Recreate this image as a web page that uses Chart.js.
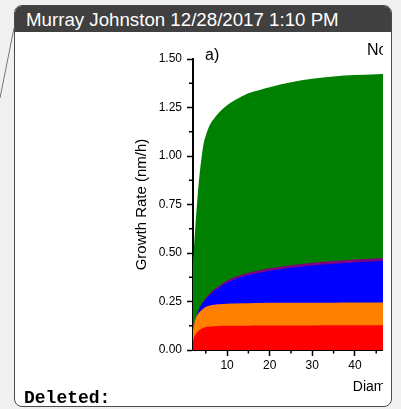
<!DOCTYPE html>
<html>
<head>
<meta charset="utf-8">
<script src="https://cdn.jsdelivr.net/npm/chart.js@4.4.1/dist/chart.umd.min.js"></script>
<style>
  html, body { margin:0; padding:0; }
  body { width:401px; height:409px; background:#f0f0f0; position:relative; overflow:hidden; font-family: Arial, "Liberation Sans", sans-serif; }
  #box { position:absolute; left:14px; top:5px; width:376px; height:400px; background:#fff; border:1px solid #4a4a4a; border-radius:8px; overflow:hidden; }
  #hdr { position:absolute; left:0; top:0; width:100%; height:26px; background:#404040; }
  #hdrtxt { position:absolute; left:11px; top:4.6px; font-size:18.7px; line-height:1; color:#fff; white-space:nowrap; }
  #chartwrap { position:absolute; left:100px; top:40px; width:283px; height:360px; overflow:hidden; }
  #chartwrap canvas { position:absolute; left:0; top:0; }
  .ann { position:absolute; font-size:16px; line-height:1; color:#000; white-space:nowrap; }
  #deleted { position:absolute; left:24px; top:389px; font-family:"Liberation Mono", "Courier New", monospace; font-weight:bold; font-size:18px; line-height:1; color:#000; }
  #leader { position:absolute; left:0; top:0; }
</style>
</head>
<body>
<div id="box">
  <div id="hdr"><span id="hdrtxt">Murray Johnston 12/28/2017 1:10 PM</span></div>
</div>
<svg id="leader" width="401" height="409"><line x1="14" y1="28" x2="0" y2="98" stroke="#777" stroke-width="1"/></svg>
<div id="chartwrap">
  <canvas id="c" width="520" height="360"></canvas>
  <div class="ann" style="left:105px; top:6.5px;">a)</div>
  <div class="ann" style="left:267px; top:1.5px;">No</div>
</div>
<div id="deleted">Deleted:</div>
<script>
// ---- data ----
const diameter = [2, 2.2, 2.5, 3, 3.5, 4, 4.5, 5, 6, 7, 8, 10, 12, 15, 18, 20, 25, 30, 35, 40, 45, 50];
const redTop    = [0.050, 0.062, 0.077, 0.092, 0.103, 0.110, 0.115, 0.118, 0.121, 0.123, 0.124, 0.125, 0.125, 0.125, 0.126, 0.126, 0.126, 0.126, 0.127, 0.127, 0.127, 0.127];
const orangeTop = [0.103, 0.125, 0.155, 0.180, 0.195, 0.205, 0.215, 0.222, 0.229, 0.233, 0.236, 0.239, 0.240, 0.241, 0.242, 0.243, 0.243, 0.244, 0.244, 0.245, 0.245, 0.245];
const blueTop   = [0.100, 0.120, 0.150, 0.185, 0.212, 0.233, 0.248, 0.262, 0.285, 0.305, 0.320, 0.348, 0.366, 0.386, 0.400, 0.408, 0.424, 0.436, 0.445, 0.452, 0.458, 0.462];
const purpleTop = [0.100, 0.121, 0.152, 0.188, 0.216, 0.238, 0.254, 0.268, 0.292, 0.313, 0.329, 0.358, 0.377, 0.398, 0.413, 0.421, 0.437, 0.450, 0.459, 0.466, 0.472, 0.476];
const greenTop  = [0.450, 0.520, 0.620, 0.770, 0.895, 0.990, 1.065, 1.105, 1.162, 1.195, 1.222, 1.262, 1.290, 1.323, 1.343, 1.355, 1.380, 1.398, 1.410, 1.417, 1.422, 1.426];
const yTicks = [0, 0.25, 0.5, 0.75, 1.0, 1.25, 1.5];
const yMinor = [0.125, 0.375, 0.625, 0.875, 1.125, 1.375];
const xTicks = [10, 20, 30, 40, 50, 60, 70, 80, 90];
const xMinor = [5, 15, 25, 35, 45, 55];

function pts(arr){ return diameter.map((d,i)=>({x:d, y:arr[i]})); }
function ds(arr, color){
  return { data: pts(arr), backgroundColor: color, borderColor: color, borderWidth: 0,
           pointRadius: 0, fill: 'origin', cubicInterpolationMode: 'monotone' };
}

const minorTicks = {
  id: 'minorTicks',
  afterDraw(chart){
    const {ctx, scales:{x, y}} = chart;
    ctx.save();
    ctx.strokeStyle = '#000';
    ctx.lineWidth = 1.5;
    yMinor.forEach(v => {
      const py = y.getPixelForValue(v);
      ctx.beginPath(); ctx.moveTo(y.right - 4, py); ctx.lineTo(y.right, py); ctx.stroke();
    });
    xMinor.forEach(v => {
      const px = x.getPixelForValue(v);
      ctx.beginPath(); ctx.moveTo(px, x.top); ctx.lineTo(px, x.top + 3.5); ctx.stroke();
    });
    ctx.restore();
  }
};

const font = "Arial, 'Liberation Sans', sans-serif";
new Chart(document.getElementById('c'), {
  type: 'line',
  data: { datasets: [ ds(redTop, '#ff0000'), ds(orangeTop, '#ff8000'), ds(blueTop, '#0000ff'), ds(purpleTop, '#800080'), ds(greenTop, '#008000') ] },
  options: {
    responsive: false,
    animation: false,
    layout: { padding: { left: 30, top: 19, right: 18, bottom: 0 } },
    plugins: { legend: { display: false }, tooltip: { enabled: false } },
    scales: {
      x: {
        type: 'linear', min: 2, max: 98,
        afterBuildTicks: s => { s.ticks = xTicks.map(v => ({value: v})); },
        afterFit: s => { s.height = 50; },
        ticks: { color: '#000', font: { family: font, size: 12 }, padding: 2, maxRotation: 0, autoSkip: false, callback: v => String(v) },
        grid: { display: true, drawOnChartArea: false, drawTicks: true, tickLength: 6, tickColor: '#000', tickWidth: 1.5 },
        border: { display: true, color: '#000', width: 2 },
        title: { display: true, text: 'Diameter (nm)', color: '#000', font: { family: font, size: 14 }, padding: { top: 0, bottom: 4 } }
      },
      y: {
        type: 'linear', min: 0, max: 1.5,
        afterBuildTicks: s => { s.ticks = yTicks.map(v => ({value: v})); },
        afterFit: s => { s.width = 63; },
        ticks: { color: '#000', font: { family: font, size: 12 }, padding: 5, autoSkip: false, callback: v => Number(v).toFixed(2) },
        grid: { display: true, drawOnChartArea: false, drawTicks: true, tickLength: 6, tickColor: '#000', tickWidth: 1.5 },
        border: { display: true, color: '#000', width: 2 },
        title: { display: true, text: 'Growth Rate (nm/h)', color: '#000', font: { family: font, size: 15 }, padding: { top: 3, bottom: 0 } }
      }
    }
  },
  plugins: [minorTicks]
});
</script>
</body>
</html>
